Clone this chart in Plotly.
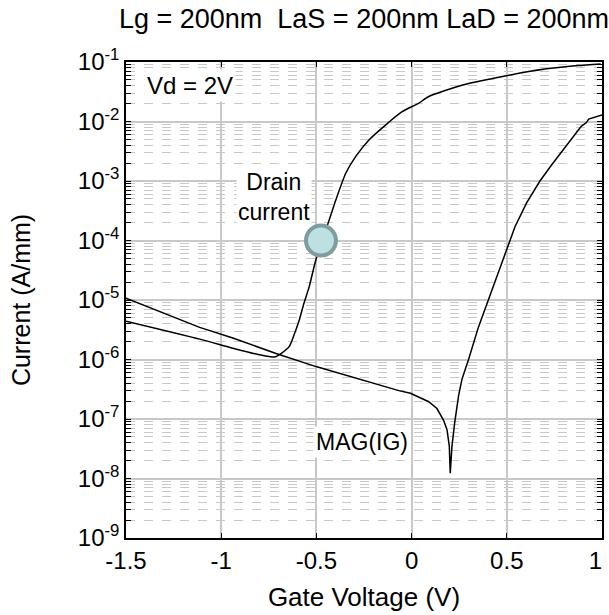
import plotly.graph_objects as go

# Drain current (A/mm) vs gate voltage
vg_id = [-1.5, -1.113, -0.939, -0.799, -0.721, -0.686, -0.642, -0.607, -0.590, -0.565,
         -0.538, -0.503, -0.433, -0.398, -0.346, -0.294, -0.224, -0.137, -0.050, 0.038,
         0.090, 0.264, 0.491, 0.700, 0.874, 0.993]
id_vals = [4.4e-6, 2.2e-6, 1.55e-6, 1.2e-6, 1.1e-6, 1.26e-6, 1.66e-6, 3.2e-6, 4.6e-6, 8.9e-6,
           1.66e-5, 4.7e-5, 2.2e-4, 4.8e-4, 1.35e-3, 2.57e-3, 4.9e-3, 8.7e-3, 1.46e-2, 2.04e-2,
           2.63e-2, 4.07e-2, 5.82e-2, 7.6e-2, 8.7e-2, 9.3e-2]

# Gate current magnitude MAG(IG)
vg_ig = [-1.5, -1.113, -0.939, -0.712, -0.502, -0.328, -0.172, -0.067, -0.006, 0.090,
         0.133, 0.168, 0.186, 0.198, 0.203, 0.212, 0.226, 0.247, 0.264, 0.299,
         0.351, 0.404, 0.456, 0.50, 0.543, 0.604, 0.674, 0.735, 0.796, 0.891,
         0.918, 0.93, 1.0]
ig_vals = [1.07e-5, 3.47e-6, 2.3e-6, 1.26e-6, 7.6e-7, 5.2e-7, 3.7e-7, 3.0e-7, 2.7e-7, 1.95e-7,
           1.5e-7, 9.5e-8, 6.6e-8, 3.5e-8, 1.23e-8, 3.5e-8, 8.5e-8, 2.5e-7, 4.6e-7, 1.0e-6,
           3.5e-6, 1.0e-5, 2.8e-5, 6.9e-5, 1.7e-4, 4.3e-4, 1.0e-3, 1.86e-3, 3.3e-3, 8.3e-3,
           9.6e-3, 1.1e-2, 1.29e-2]

marker_vg = [-0.476]
marker_id = [1.0e-4]

x_ticks = [-1.5, -1, -0.5, 0, 0.5]
x_ticktext = ["-1.5", "-1", "-0.5", "0", "0.5"]
x_last_tick = [1]
x_last_text = ["1"]
y_exps = [-9, -8, -7, -6, -5, -4, -3, -2, -1]
y_ticks = [10.0 ** e for e in y_exps]
y_ticktext = ["10<sup>%d</sup>" % e for e in y_exps]
y_minor = [m * 10.0 ** e for e in y_exps[:-1] for m in range(2, 10)]

FONT = "Liberation Sans, Arial, sans-serif"

fig = go.Figure()
fig.add_trace(go.Scatter(x=vg_id, y=id_vals, mode="lines",
                         line=dict(color="black", width=1.5, shape="spline", smoothing=0.6),
                         showlegend=False))
fig.add_trace(go.Scatter(x=vg_ig, y=ig_vals, mode="lines",
                         line=dict(color="black", width=1.5), showlegend=False))
fig.add_trace(go.Scatter(x=marker_vg, y=marker_id, mode="markers", xaxis="x2", yaxis="y",
                         marker=dict(size=30, color="#bde0e2",
                                     line=dict(color="#7f9d9e", width=4)),
                         showlegend=False))

ann_font = dict(family=FONT, size=23, color="black")
fig.add_annotation(x=-1.165, y=-1.40, xref="x", yref="y", text="Vd = 2V",
                   showarrow=False, font=dict(family=FONT, size=24, color="black"),
                   bgcolor="white", borderpad=2)
fig.add_annotation(x=-0.725, y=-3.27, xref="x", yref="y", text="Drain<br>current",
                   showarrow=False, font=ann_font, bgcolor="white", borderpad=1)
fig.add_annotation(x=-0.26, y=-7.38, xref="x", yref="y", text="MAG(IG)",
                   showarrow=False, font=ann_font, bgcolor="white", borderpad=2)

fig.update_layout(
    width=609, height=615,
    margin=dict(l=126, r=5, t=62, b=77),
    paper_bgcolor="white", plot_bgcolor="white",
    font=dict(family=FONT, size=24, color="black"),
    title=dict(text="Lg = 200nm  LaS = 200nm LaD = 200nm", x=0.5, xref="paper",
               xanchor="center", y=0.97, yanchor="middle", font=dict(size=27)),
    xaxis2=dict(overlaying="x", matches="x", anchor="y", side="bottom",
                tickvals=x_last_tick, ticktext=x_last_text,
                ticklabelposition="outside left", ticklabeloverflow="allow",
                ticklabelstandoff=6,
                showgrid=False, showline=False, zeroline=False, ticks="",
                automargin=False, tickfont=dict(size=24)),
)
fig.update_layout(xaxis=dict(
    range=[-1.5, 1], tickvals=x_ticks, ticktext=x_ticktext, automargin=False,
    showgrid=True, gridcolor="#c8c8c8", gridwidth=1.5,
    showline=True, linecolor="black", linewidth=1.5, mirror="allticks",
    ticks="inside", ticklen=5, tickcolor="black",
    zeroline=False, tickfont=dict(size=24),
    title=dict(text="Gate Voltage (V)", font=dict(size=26)),
))
fig.update_yaxes(
    type="log", range=[-9, -1], tickvals=y_ticks, ticktext=y_ticktext, automargin=True,
    showgrid=True, gridcolor="#c8c8c8", gridwidth=1.5,
    showline=True, linecolor="black", linewidth=1.5, mirror="allticks",
    ticks="inside", ticklen=5, tickcolor="black",
    zeroline=False, tickfont=dict(size=24),
    minor=dict(tickvals=y_minor, showgrid=True, gridcolor="#c8c8c8", gridwidth=1,
               griddash="dash", ticks="inside", ticklen=3, tickcolor="black"),
    title=dict(text="Current (A/mm)", font=dict(size=25), standoff=40),
)

fig.write_html("out.html")
